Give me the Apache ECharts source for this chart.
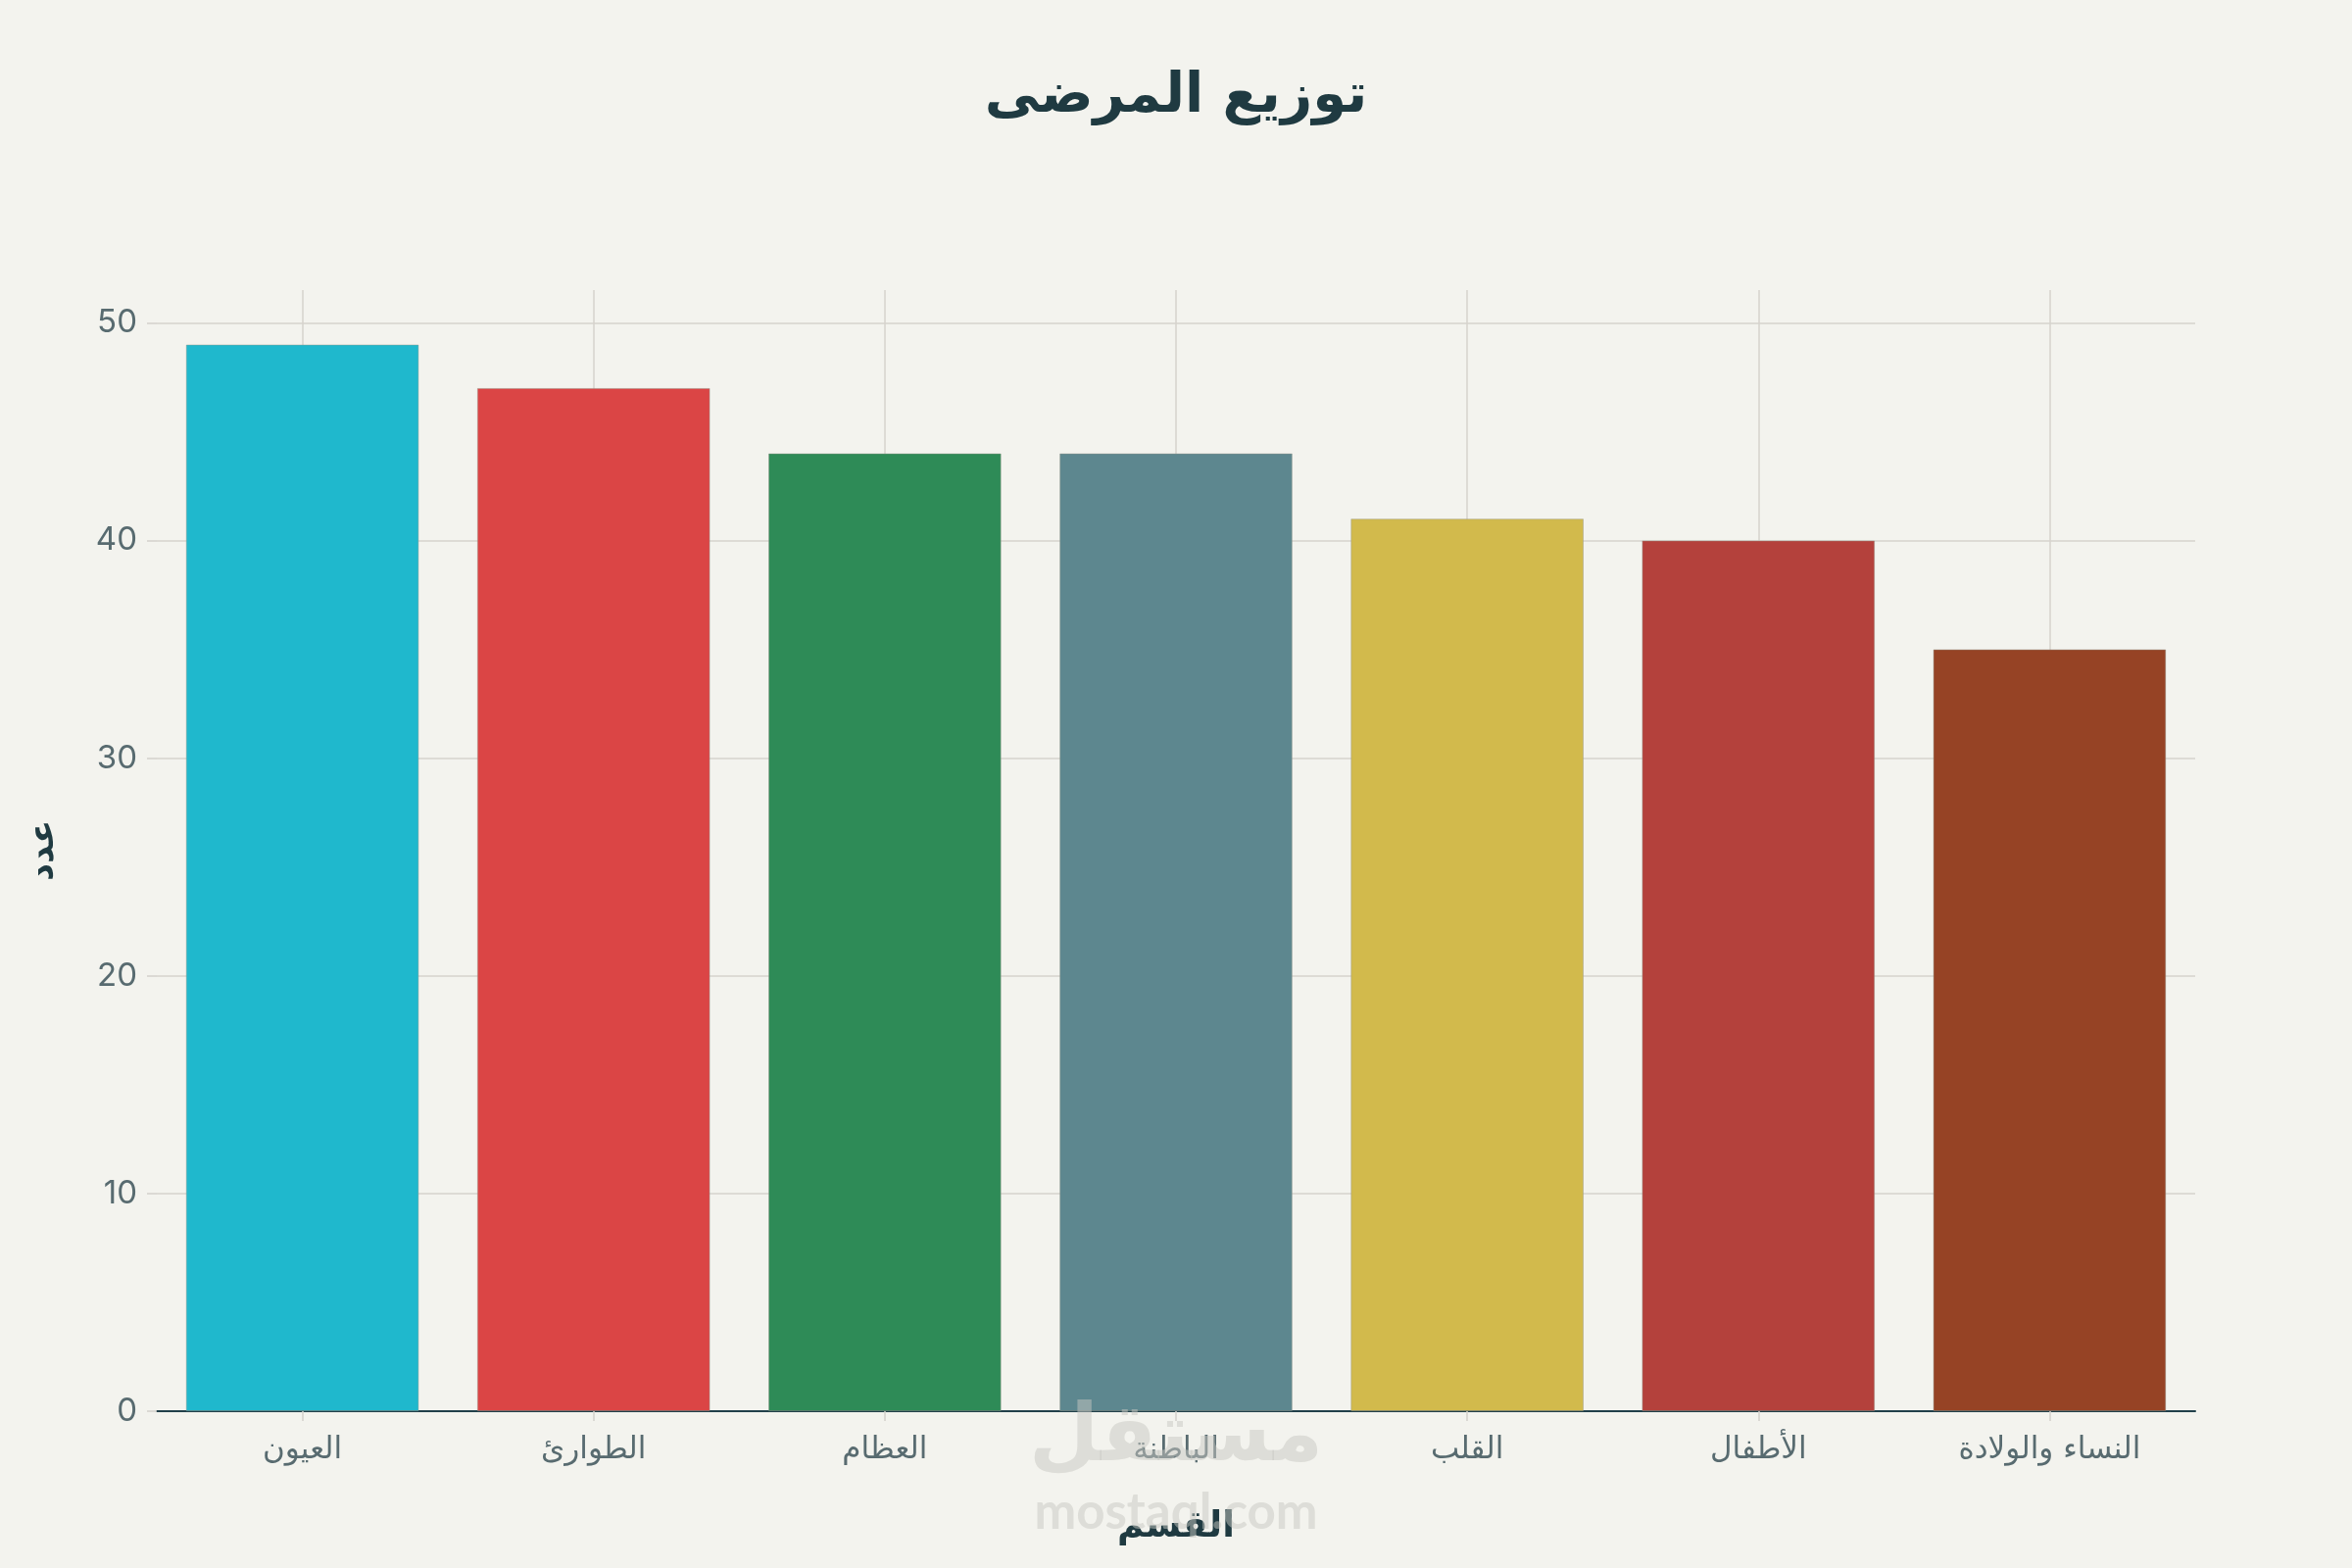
<!DOCTYPE html>
<html>
<head>
<meta charset="utf-8">
<script src="https://cdn.jsdelivr.net/npm/echarts@6/dist/echarts.min.js"></script>
<style>
html,body{margin:0;padding:0;background:#f3f3ee;}
#chart{width:2400px;height:1600px;}
</style>
</head>
<body>
<div id="chart"></div>
<script>
const titleText = 'توزيع المرضى';
const xAxisName = 'القسم';
const yAxisName = 'عدد';
const categories = ['العيون', 'الطوارئ', 'العظام', 'الباطنة', 'القلب', 'الأطفال', 'النساء والولادة'];
const patientCounts = [49, 47, 44, 44, 41, 40, 35];
const barColors = ['#1FB8CD', '#DB4545', '#2E8B57', '#5D878F', '#D2BA4C', '#B4413C', '#964325'];

const chart = echarts.init(document.getElementById('chart'), null, {renderer: 'canvas'});
const option = {
  backgroundColor: '#f3f3ee',
  animation: false,
  title: {
    text: titleText,
    left: 'center',
    top: 66,
    textStyle: {fontFamily: '"DejaVu Sans", sans-serif', fontWeight: 'bold', fontSize: 56, color: '#1f3a41'}
  },
  grid: {left: 160, right: 160, top: 296, bottom: 160, containLabel: false},
  xAxis: {
    type: 'category',
    data: categories,
    name: xAxisName,
    nameLocation: 'middle',
    nameGap: 100,
    nameTextStyle: {fontFamily: '"DejaVu Sans", sans-serif', fontWeight: 'bold', fontSize: 37, color: '#1f3a41'},
    axisLine: {show: true, lineStyle: {color: '#21404a', width: 2}},
    axisTick: {show: true, alignWithLabel: true, length: 10, lineStyle: {color: '#d4d1cb', width: 1.5}},
    axisLabel: {fontFamily: '"DejaVu Sans", sans-serif', fontSize: 31, color: '#586b70', margin: 24},
    splitLine: {show: true, alignWithLabel: true, lineStyle: {color: '#d6d3cd', width: 1.5}}
  },
  yAxis: {
    type: 'value',
    min: 0,
    max: 51.5,
    interval: 10,
    name: yAxisName,
    nameLocation: 'middle',
    nameRotate: 90,
    nameGap: 98,
    nameTextStyle: {fontFamily: '"DejaVu Sans", sans-serif', fontWeight: 'bold', fontSize: 35, color: '#1f3a41'},
    axisLine: {show: false},
    axisTick: {show: true, length: 10, lineStyle: {color: '#d4d1cb', width: 1.5}},
    axisLabel: {fontFamily: 'Inter, "DejaVu Sans", sans-serif', fontSize: 33, color: '#586b70', margin: 20, showMaxLabel: false},
    splitLine: {show: true, showMaxLine: false, showMinLine: false, lineStyle: {color: '#d6d3cd', width: 1.5}}
  },
  series: [{
    type: 'bar',
    data: patientCounts.map((v, i) => ({value: v, itemStyle: {color: barColors[i]}})),
    barCategoryGap: '20%',
    itemStyle: {borderColor: 'rgba(150,150,140,0.45)', borderWidth: 1}
  }],
  graphic: [
    {type: 'text', left: 'center', top: 1428, z: 100, silent: true,
     style: {text: 'مستقل', font: 'bold 82px "DejaVu Sans", sans-serif', fill: 'rgba(200,200,194,0.5)'}},
    {type: 'text', left: 'center', top: 1518, z: 100, silent: true,
     style: {text: 'mostaql.com', font: 'bold 51px Lato, "DejaVu Sans", sans-serif', fill: 'rgba(200,200,194,0.5)'}}
  ]
};
chart.setOption(option);
</script>
</body>
</html>
